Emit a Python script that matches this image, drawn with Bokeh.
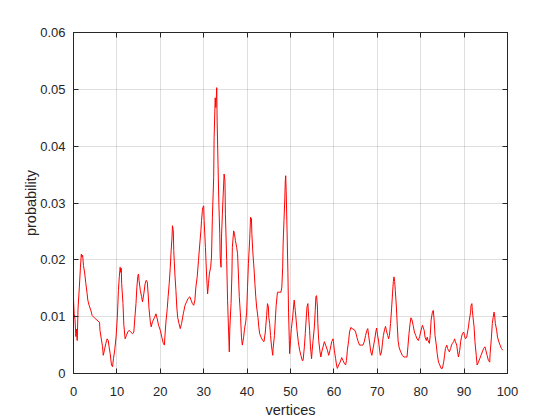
from bokeh.plotting import figure
from bokeh.models import Range1d, LinearAxis, FixedTicker, NumeralTickFormatter
from bokeh.embed import file_html
from bokeh.resources import INLINE

# Tick values / labels
x_ticks = [0, 10, 20, 30, 40, 50, 60, 70, 80, 90, 100]
y_ticks = [0, 0.01, 0.02, 0.03, 0.04, 0.05, 0.06]

# Data (vertex position, probability)
vertex_x = [
    0, 0.15, 0.35, 0.55, 0.7, 0.85, 1.05, 1.35, 1.6, 1.8, 1.95, 2.1, 2.3, 2.6, 2.85, 3.1, 3.3, 3.6, 4.0, 4.3,
    4.8, 5.4, 6.0, 6.1, 6.4, 6.7, 6.85, 7.1, 7.45, 7.75, 8.0, 8.2, 8.45, 8.75, 9.0, 9.2, 9.5, 9.8, 10.1, 10.35,
    10.55, 10.75, 10.9, 11.0, 11.1, 11.4, 11.6, 11.9, 12.2, 12.5, 12.8, 13.2, 13.6, 13.9, 14.15, 14.4, 14.6, 14.85, 15.0, 15.1,
    15.4, 15.7, 15.9, 16.2, 16.5, 16.75, 17.0, 17.2, 17.4, 17.7, 17.9, 18.2, 18.7, 19.0, 19.3, 19.6, 20.0, 20.35, 20.7, 20.95,
    21.05, 21.3, 21.6, 21.8, 22.05, 22.3, 22.5, 22.7, 22.8, 23.0, 23.1, 23.36, 23.6, 23.8, 24.0, 24.3, 24.6, 24.9, 25.3, 25.7,
    26.05, 26.4, 26.8, 27.1, 27.4, 27.7, 27.97, 28.2, 28.5, 28.8, 29.1, 29.35, 29.5, 29.7, 29.8, 30.0, 30.1, 30.4, 30.65, 30.9,
    31.1, 31.3, 31.6, 31.8, 32.0, 32.3, 32.4, 32.65, 32.8, 33.0, 33.1, 33.3, 33.5, 33.7, 33.8, 34.0, 34.1, 34.3, 34.5, 34.7,
    34.9, 35.0, 35.3, 35.5, 35.7, 35.9, 36.0, 36.3, 36.5, 36.6, 36.9, 37.1, 37.3, 37.6, 37.8, 38.0, 38.2, 38.5, 38.7, 38.9,
    39.2, 39.4, 39.7, 39.9, 40.1, 40.3, 40.6, 40.8, 41.0, 41.1, 41.3, 41.6, 41.8, 42.0, 42.2, 42.5, 42.7, 42.9, 43.2, 43.6,
    43.9, 44.2, 44.5, 44.7, 44.9, 45.0, 45.2, 45.4, 45.6, 45.9, 46.0, 46.3, 46.5, 46.7, 47.0, 47.4, 47.8, 48.0, 48.2, 48.3,
    48.5, 48.7, 48.8, 48.9, 49.0, 49.2, 49.4, 49.55, 49.8, 50.0, 50.2, 50.5, 50.7, 50.85, 51.1, 51.3, 51.5, 51.8, 52.1, 52.4,
    52.7, 52.9, 53.2, 53.4, 53.6, 53.8, 54.0, 54.2, 54.4, 54.6, 54.85, 55.0, 55.2, 55.5, 55.7, 55.85, 56.0, 56.2, 56.3, 56.5,
    56.8, 57.0, 57.2, 57.5, 57.8, 58.1, 58.5, 58.8, 59.1, 59.5, 59.8, 59.9, 60.1, 60.4, 60.6, 60.8, 61.1, 61.45, 61.8, 62.1,
    62.4, 62.7, 62.9, 63.1, 63.4, 63.6, 63.9, 64.2, 64.7, 65.0, 65.3, 65.6, 65.9, 66.3, 66.7, 67.0, 67.3, 67.6, 67.8, 68.0,
    68.3, 68.5, 68.75, 69.05, 69.4, 69.7, 69.85, 70.05, 70.3, 70.5, 70.7, 70.97, 71.2, 71.4, 71.7, 71.9, 72.1, 72.4, 72.6, 72.8,
    73.05, 73.3, 73.5, 73.7, 73.85, 74.0, 74.15, 74.4, 74.6, 74.8, 75.05, 75.4, 75.75, 76.1, 76.5, 76.85, 77.05, 77.3, 77.55, 77.75,
    78.0, 78.25, 78.55, 78.85, 79.15, 79.45, 79.75, 80.05, 80.4, 80.8, 81.0, 81.3, 81.5, 81.7, 82.0, 82.2, 82.4, 82.7, 82.9, 83.1,
    83.3, 83.6, 83.8, 84.1, 84.4, 84.7, 85.0, 85.3, 85.5, 85.7, 86.0, 86.2, 86.4, 86.6, 86.9, 87.1, 87.3, 87.6, 87.8, 88.0,
    88.3, 88.5, 88.7, 89.0, 89.2, 89.4, 89.6, 89.9, 90.1, 90.3, 90.6, 90.8, 91.0, 91.2, 91.5, 91.6, 91.8, 91.9, 92.1, 92.3,
    92.5, 92.8, 93.0, 93.3, 93.6, 93.9, 94.2, 94.5, 94.8, 95.0, 95.3, 95.6, 95.9, 96.0, 96.3, 96.5, 96.7, 96.9, 97.0, 97.2,
    97.5, 97.7, 98.0, 98.3, 98.6, 98.9,
]

probability = [
    0.0131, 0.0105, 0.0095, 0.0065, 0.0078, 0.0058, 0.0115, 0.0152, 0.0187, 0.0210, 0.0205, 0.0208, 0.0190, 0.0175, 0.0158, 0.0143, 0.0129, 0.0120, 0.0111, 0.0102,
    0.0098, 0.0094, 0.0090, 0.0076, 0.0061, 0.0047, 0.0032, 0.0040, 0.0053, 0.0061, 0.0058, 0.0047, 0.0035, 0.0015, 0.0012, 0.0026, 0.0041, 0.0064, 0.0099, 0.0146,
    0.0170, 0.0187, 0.0178, 0.0185, 0.0158, 0.0123, 0.0085, 0.0061, 0.0067, 0.0073, 0.0076, 0.0073, 0.0070, 0.0073, 0.0099, 0.0123, 0.0152, 0.0173, 0.0175, 0.0164,
    0.0146, 0.0135, 0.0126, 0.0140, 0.0158, 0.0164, 0.0161, 0.0140, 0.0114, 0.0091, 0.0082, 0.0091, 0.0099, 0.0105, 0.0096, 0.0085, 0.0076, 0.0064, 0.0053, 0.0050,
    0.0064, 0.0091, 0.0114, 0.0135, 0.0158, 0.0187, 0.0216, 0.0240, 0.0260, 0.0251, 0.0216, 0.0175, 0.0146, 0.0117, 0.0099, 0.0088, 0.0079, 0.0088, 0.0105, 0.0120,
    0.0126, 0.0132, 0.0135, 0.0129, 0.0123, 0.0120, 0.0129, 0.0152, 0.0170, 0.0199, 0.0228, 0.0251, 0.0269, 0.0287, 0.0292, 0.0295, 0.0269, 0.0222, 0.0175, 0.0140,
    0.0158, 0.0175, 0.0187, 0.0205, 0.0275, 0.0345, 0.0415, 0.0485, 0.0468, 0.0503, 0.0444, 0.0368, 0.0298, 0.0246, 0.0205, 0.0187, 0.0240, 0.0281, 0.0316, 0.0351,
    0.0339, 0.0281, 0.0199, 0.0129, 0.0082, 0.0038, 0.0076, 0.0123, 0.0175, 0.0222, 0.0251, 0.0246, 0.0234, 0.0222, 0.0211, 0.0175, 0.0135, 0.0099, 0.0064, 0.0050,
    0.0064, 0.0078, 0.0092, 0.0108, 0.0152, 0.0193, 0.0237, 0.0275, 0.0272, 0.0246, 0.0216, 0.0184, 0.0158, 0.0135, 0.0117, 0.0099, 0.0082, 0.0070, 0.0064, 0.0058,
    0.0056, 0.0073, 0.0102, 0.0123, 0.0117, 0.0099, 0.0088, 0.0067, 0.0050, 0.0032, 0.0044, 0.0067, 0.0094, 0.0120, 0.0143, 0.0143, 0.0143, 0.0152, 0.0187, 0.0228,
    0.0269, 0.0310, 0.0339, 0.0348, 0.0322, 0.0254, 0.0178, 0.0108, 0.0035, 0.0058, 0.0079, 0.0099, 0.0117, 0.0129, 0.0111, 0.0094, 0.0076, 0.0056, 0.0041, 0.0032,
    0.0023, 0.0023, 0.0047, 0.0070, 0.0094, 0.0117, 0.0123, 0.0099, 0.0076, 0.0047, 0.0026, 0.0041, 0.0058, 0.0082, 0.0111, 0.0135, 0.0137, 0.0117, 0.0088, 0.0058,
    0.0038, 0.0029, 0.0038, 0.0047, 0.0056, 0.0050, 0.0041, 0.0032, 0.0041, 0.0056, 0.0061, 0.0056, 0.0041, 0.0026, 0.0015, 0.0009, 0.0015, 0.0020, 0.0028, 0.0023,
    0.0018, 0.0015, 0.0023, 0.0041, 0.0058, 0.0073, 0.0081, 0.0079, 0.0077, 0.0073, 0.0064, 0.0056, 0.0050, 0.0050, 0.0050, 0.0056, 0.0067, 0.0076, 0.0079, 0.0067,
    0.0050, 0.0038, 0.0032, 0.0045, 0.0060, 0.0075, 0.0080, 0.0068, 0.0057, 0.0043, 0.0032, 0.0038, 0.0054, 0.0067, 0.0078, 0.0083, 0.0075, 0.0067, 0.0061, 0.0067,
    0.0088, 0.0115, 0.0140, 0.0162, 0.0170, 0.0162, 0.0146, 0.0117, 0.0085, 0.0057, 0.0045, 0.0038, 0.0032, 0.0029, 0.0029, 0.0029, 0.0047, 0.0070, 0.0088, 0.0098,
    0.0094, 0.0085, 0.0073, 0.0067, 0.0061, 0.0058, 0.0065, 0.0075, 0.0085, 0.0076, 0.0064, 0.0058, 0.0064, 0.0058, 0.0053, 0.0067, 0.0094, 0.0108, 0.0111, 0.0094,
    0.0067, 0.0050, 0.0035, 0.0020, 0.0015, 0.0009, 0.0009, 0.0020, 0.0032, 0.0044, 0.0050, 0.0044, 0.0041, 0.0038, 0.0044, 0.0050, 0.0053, 0.0056, 0.0061, 0.0056,
    0.0050, 0.0038, 0.0029, 0.0041, 0.0056, 0.0064, 0.0070, 0.0073, 0.0067, 0.0061, 0.0064, 0.0073, 0.0082, 0.0094, 0.0108, 0.0120, 0.0123, 0.0111, 0.0096, 0.0082,
    0.0056, 0.0032, 0.0015, 0.0020, 0.0026, 0.0032, 0.0038, 0.0044, 0.0047, 0.0041, 0.0032, 0.0023, 0.0020, 0.0035, 0.0064, 0.0088, 0.0099, 0.0108, 0.0105, 0.0088,
    0.0076, 0.0064, 0.0056, 0.0050, 0.0044, 0.0041,
]

AX = "#262626"
FONT = "Liberation Sans"

p = figure(
    width=560, height=420,
    output_backend="svg", toolbar_location=None,
    x_range=Range1d(0, 100), y_range=Range1d(0, 0.06),
    min_border_left=73, min_border_right=53, min_border_top=32, min_border_bottom=46,
    background_fill_color="white", border_fill_color="white",
    x_axis_label="vertices", y_axis_label="probability",
)
p.outline_line_color = AX
p.outline_line_width = 1

p.line(vertex_x, probability, line_color="red", line_width=1)

for ax in (p.xaxis[0], p.yaxis[0]):
    ax.axis_line_color = AX
    ax.major_tick_line_color = AX
    ax.major_tick_in = 5
    ax.major_tick_out = 0
    ax.minor_tick_line_color = None
    ax.major_label_text_font = FONT
    ax.major_label_text_font_size = "13px"
    ax.major_label_text_color = AX
    ax.axis_label_text_font = FONT
    ax.axis_label_text_font_size = "14.5px"
    ax.axis_label_text_font_style = "normal"
    ax.axis_label_text_color = AX

p.xaxis[0].ticker = FixedTicker(ticks=x_ticks)
p.yaxis[0].ticker = FixedTicker(ticks=y_ticks)
p.yaxis[0].formatter = NumeralTickFormatter(format="0.[00]")
p.xaxis[0].major_label_standoff = 13
p.yaxis[0].major_label_standoff = 8
p.xaxis[0].axis_label_standoff = 3
p.yaxis[0].axis_label_standoff = -2

# Mirror axes on top and right (ticks only), MATLAB box style
top = LinearAxis(ticker=FixedTicker(ticks=x_ticks), major_label_text_font_size="0px",
                 major_tick_in=5, major_tick_out=0, minor_tick_line_color=None,
                 axis_line_color=AX, major_tick_line_color=AX, major_label_standoff=0)
right = LinearAxis(ticker=FixedTicker(ticks=y_ticks), major_label_text_font_size="0px",
                   major_tick_in=5, major_tick_out=0, minor_tick_line_color=None,
                   axis_line_color=AX, major_tick_line_color=AX, major_label_standoff=0)
p.add_layout(top, "above")
p.add_layout(right, "right")

p.xgrid.ticker = FixedTicker(ticks=x_ticks)
p.ygrid.ticker = FixedTicker(ticks=y_ticks)
p.xgrid.grid_line_color = AX
p.ygrid.grid_line_color = AX
p.xgrid.grid_line_alpha = 0.15
p.ygrid.grid_line_alpha = 0.15

open("out.html", "w").write(file_html(p, INLINE))
